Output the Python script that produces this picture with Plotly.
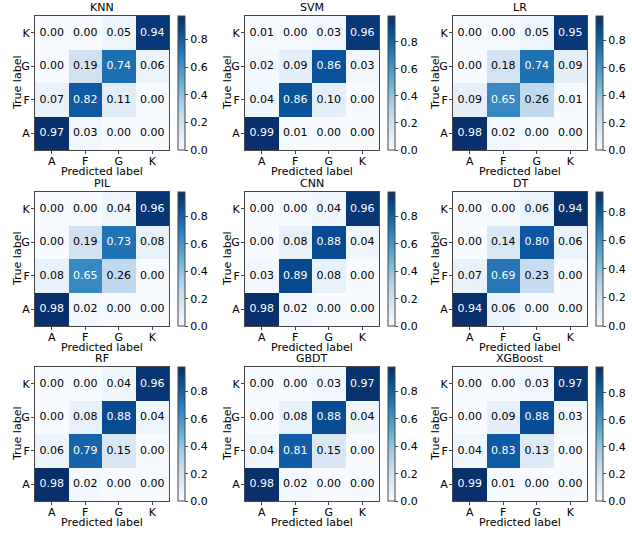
import plotly.graph_objects as go
import plotly.colors as pc

labels = ["A", "F", "G", "K"]

# rows = true label (A, F, G, K), cols = predicted label (A, F, G, K)
knn = [[0.97, 0.03, 0.00, 0.00],
       [0.07, 0.82, 0.11, 0.00],
       [0.00, 0.19, 0.74, 0.06],
       [0.00, 0.00, 0.05, 0.94]]
svm = [[0.99, 0.01, 0.00, 0.00],
       [0.04, 0.86, 0.10, 0.00],
       [0.02, 0.09, 0.86, 0.03],
       [0.01, 0.00, 0.03, 0.96]]
lr = [[0.98, 0.02, 0.00, 0.00],
      [0.09, 0.65, 0.26, 0.01],
      [0.00, 0.18, 0.74, 0.09],
      [0.00, 0.00, 0.05, 0.95]]
pil = [[0.98, 0.02, 0.00, 0.00],
       [0.08, 0.65, 0.26, 0.00],
       [0.00, 0.19, 0.73, 0.08],
       [0.00, 0.00, 0.04, 0.96]]
cnn = [[0.98, 0.02, 0.00, 0.00],
       [0.03, 0.89, 0.08, 0.00],
       [0.00, 0.08, 0.88, 0.04],
       [0.00, 0.00, 0.04, 0.96]]
dt = [[0.94, 0.06, 0.00, 0.00],
      [0.07, 0.69, 0.23, 0.00],
      [0.00, 0.14, 0.80, 0.06],
      [0.00, 0.00, 0.06, 0.94]]
rf = [[0.98, 0.02, 0.00, 0.00],
      [0.06, 0.79, 0.15, 0.00],
      [0.00, 0.08, 0.88, 0.04],
      [0.00, 0.00, 0.04, 0.96]]
gbdt = [[0.98, 0.02, 0.00, 0.00],
        [0.04, 0.81, 0.15, 0.00],
        [0.00, 0.08, 0.88, 0.04],
        [0.00, 0.00, 0.03, 0.97]]
xgb = [[0.99, 0.01, 0.00, 0.00],
       [0.04, 0.83, 0.13, 0.00],
       [0.00, 0.09, 0.88, 0.03],
       [0.00, 0.00, 0.03, 0.97]]

names = ["KNN", "SVM", "LR", "PIL", "CNN", "DT", "RF", "GBDT", "XGBoost"]
mats = [knn, svm, lr, pil, cnn, dt, rf, gbdt, xgb]

W, H = 632, 534
col_px = [35, 245, 453]      # left edge of each heatmap box
row_px = [16, 192, 367]      # top edge of each heatmap box
box = 134
cb_gap = 9
font = "DejaVu Sans"
fs = 11
frame = "rgb(70,70,70)"

fig = go.Figure()
layout = {}

for i, (name, m) in enumerate(zip(names, mats)):
    r, c = divmod(i, 3)
    n = i + 1
    sfx = "" if n == 1 else str(n)
    x0 = col_px[c] / W
    x1 = (col_px[c] + box) / W
    y1 = 1 - row_px[r] / H
    y0 = 1 - (row_px[r] + box) / H
    zmax = max(max(row) for row in m)

    fig.add_trace(go.Heatmap(
        z=m, x=labels, y=labels,
        coloraxis="coloraxis" + sfx,
        xaxis="x" + sfx, yaxis="y" + sfx,
        hoverinfo="skip",
    ))

    tx, ty, tt, tc = [], [], [], []
    for a, row in enumerate(m):
        for b, v in enumerate(row):
            tx.append(labels[b])
            ty.append(labels[a])
            tt.append(f"{v:.2f}")
            tc.append("white" if v > zmax / 2 else "black")
    fig.add_trace(go.Scatter(
        x=tx, y=ty, text=tt, mode="text",
        textfont=dict(family=font, size=fs, color=tc),
        xaxis="x" + sfx, yaxis="y" + sfx,
        showlegend=False, hoverinfo="skip",
    ))

    ax = dict(
        type="category", categoryorder="array", categoryarray=labels,
        range=[-0.5, 3.5],
        showline=True, mirror=True, linecolor=frame, linewidth=1,
        ticks="outside", ticklen=3, tickcolor=frame,
        tickfont=dict(family=font, size=fs, color="black"),
        showgrid=False, zeroline=False,
    )
    layout["xaxis" + sfx] = dict(ax, domain=[x0, x1], anchor="y" + sfx,
                                 ticklabelstandoff=-2)
    layout["yaxis" + sfx] = dict(ax, domain=[y0, y1], anchor="x" + sfx,
                                 ticklabelstandoff=-1)
    layout["coloraxis" + sfx] = dict(
        cmin=0, cmax=zmax,
        colorscale=pc.sequential.Blues,
        colorbar=dict(
            x=(col_px[c] + box + cb_gap) / W, xanchor="left", xpad=0,
            y=(y0 + y1) / 2, yanchor="middle", ypad=0,
            len=box / H, lenmode="fraction",
            thickness=7, thicknessmode="pixels",
            outlinewidth=1, outlinecolor=frame,
            ticks="outside", ticklen=3, tickcolor=frame,
            tick0=0, dtick=0.2, tickformat=".1f",
            tickfont=dict(family=font, size=fs, color="black"),
        ),
    )
    # title
    fig.add_annotation(
        text=name, xref="paper", yref="paper",
        x=(x0 + x1) / 2, y=y1, xanchor="center", yanchor="bottom",
        yshift=0, showarrow=False,
        font=dict(family=font, size=fs, color="black"),
    )
    # x axis title
    fig.add_annotation(
        text="Predicted label", xref="paper", yref="paper",
        x=(x0 + x1) / 2, y=y0, xanchor="center", yanchor="middle",
        yshift=-21, showarrow=False,
        font=dict(family=font, size=fs, color="black"),
    )
    # y axis title
    fig.add_annotation(
        text="True label", xref="paper", yref="paper",
        x=x0, y=(y0 + y1) / 2, xanchor="center", yanchor="middle",
        xshift=-18, textangle=-90, showarrow=False,
        font=dict(family=font, size=fs, color="black"),
    )

fig.update_layout(
    width=W, height=H,
    margin=dict(l=0, r=0, t=0, b=0),
    paper_bgcolor="white", plot_bgcolor="white",
    showlegend=False,
    **layout,
)

# drop the default page margin so the figure fills the window exactly
fig.write_html("out.html", config={"displayModeBar": False},
               post_script="document.body.style.margin = '0';")
